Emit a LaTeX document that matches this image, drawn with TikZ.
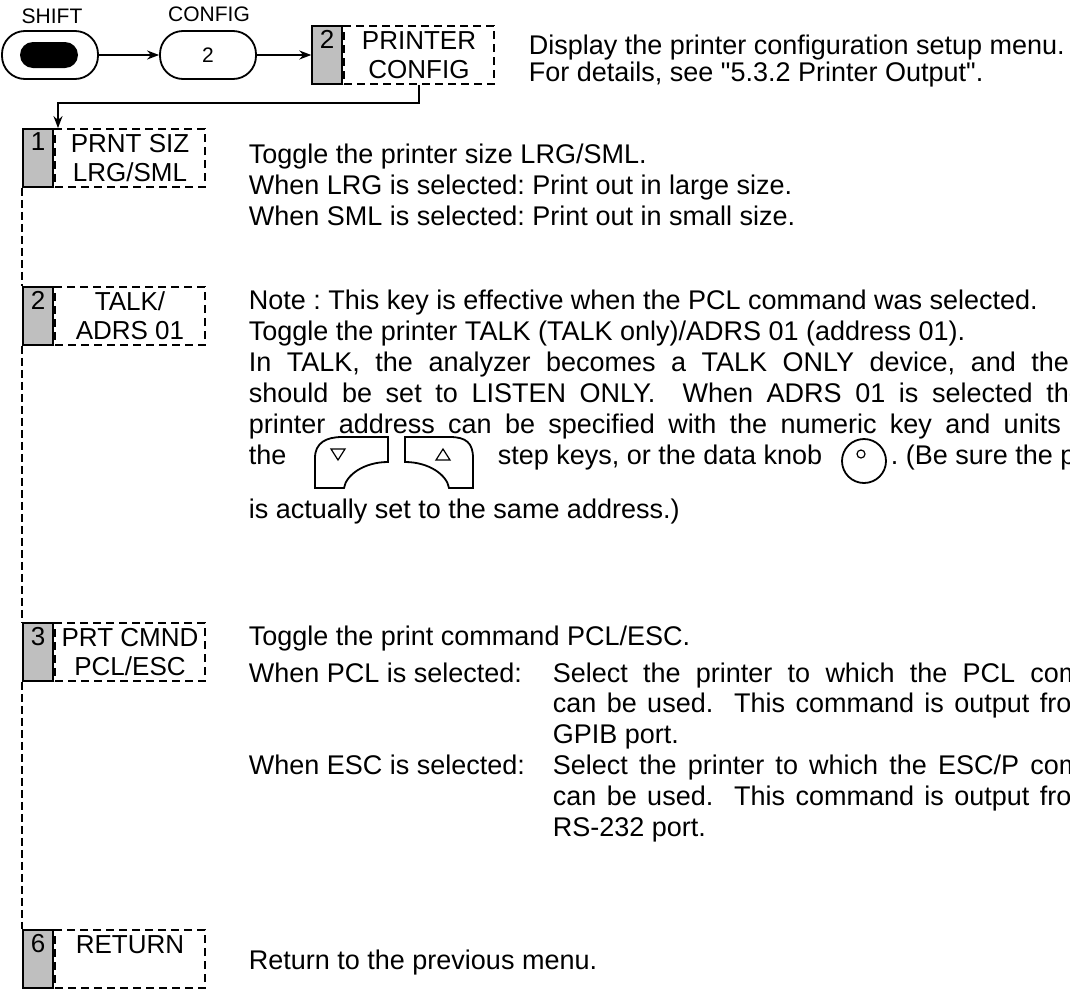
\documentclass[tikz,border=0pt]{standalone}
\usepackage{fontspec}
\setmainfont{Liberation Sans}
\newfontfamily\plainsans{Liberation Sans}
\usetikzlibrary{arrows.meta,positioning}

\newcommand{\bodyfont}{\plainsans\fontsize{13.5}{16}\selectfont}
\newcommand{\keyfont}{\fontsize{13}{14.5}\selectfont}
\newcommand{\capfont}{\fontsize{10.5}{12}\selectfont}
\frenchspacing

\begin{document}
\begin{tikzpicture}[x=0.5pt,y=-0.5pt,line width=0.9pt,
    body/.style={anchor=base west, inner sep=0pt, font=\bodyfont},
    keycap/.style={draw, rounded corners=11.5pt, minimum width=48pt, minimum height=24pt, inner sep=0pt},
    softkey/.style={draw, dash pattern=on 4pt off 2.5pt, minimum width=75pt, minimum height=29pt, inner sep=0pt, align=center, font=\keyfont},
    numcell/.style={draw, fill=black!25, minimum width=15pt, minimum height=29pt, inner sep=0pt},
    numtext/.style={anchor=north, inner sep=2pt, font=\keyfont},
    >={Stealth[length=6pt,width=4.5pt]}]
    \useasboundingbox (0,0) rectangle (1070,991);
    \clip (0,0) rectangle (1070,991);

    % hard keys
    \node[font=\capfont] (shiftlbl) at (52,16) {SHIFT};
    \node[font=\capfont] (configlbl) at (209,14) {CONFIG};
    \node[keycap] (shift) at (50,55) {};
    \node[fill, rounded corners=6.5pt, minimum width=29pt, minimum height=13pt, inner sep=0pt] (shiftdot) at (49,55) {};
    \node[keycap, font=\capfont] (config) at (208,55) {2};

    % soft keys
    \node[softkey] (kP) at (419,55) {PRINTER\\CONFIG};
    \node[numcell, left=0pt of kP, label={[numtext]north:2}] (nP) {};
    \node[softkey] (k1) at (130,158) {PRNT SIZ\\LRG/SML};
    \node[numcell, left=0pt of k1, label={[numtext]north:1}] (n1) {};
    \node[softkey] (k2) at (130,316) {TALK/\\ADRS 01};
    \node[numcell, left=0pt of k2, label={[numtext]north:2}] (n2) {};
    \node[softkey] (k3) at (130,652) {PRT CMND\\PCL/ESC};
    \node[numcell, left=0pt of k3, label={[numtext]north:3}] (n3) {};
    \node[softkey] (k6) at (130,959) {RETURN\\\mbox{}};
    \node[numcell, left=0pt of k6, label={[numtext]north:6}] (n6) {};

    \draw[->] (shift) -- (config);
    \draw[->] (config) -- (nP);
    \coordinate (bend) at (58,103);
    \draw[->] (kP.south) |- (bend) -- (bend |- k1.north);
    \draw[dash pattern=on 4pt off 2pt] (n1.south west) -- (n2.north west);
    \draw[dash pattern=on 4pt off 2pt] (n2.south west) -- (n3.north west);
    \draw[dash pattern=on 4pt off 2pt] (n3.south west) -- (n6.north west);

    % step keys and data knob
    \draw (315,488) -- (315,458) .. controls (315,443) and (326,437) .. (342,437) -- (388,437)
        -- (388,462) .. controls (364,462) and (346,475) .. (344,488) -- cycle;
    \draw[line width=0.6pt] (331,449) -- (345,449) -- (338,460) -- cycle;
    \draw (405,437) -- (450,437) .. controls (466,437) and (473,443) .. (473,458) -- (473,488)
        -- (449,488) .. controls (447,475) and (429,462) .. (405,462) -- cycle;
    \draw[line width=0.6pt] (436,460) -- (450,460) -- (443,449) -- cycle;
    \draw (864,461) circle (11pt);
    \draw[line width=0.6pt] (861,454) circle (2pt);

    % texts
    \node[body] (disp1) at (528,54) {Display the printer configuration setup menu.};
    \node[body] (disp2) at (528,81) {For details, see "5.3.2 Printer Output".};

    \node[body] (siz1) at (248,163) {Toggle the printer size LRG/SML.};
    \node[body] (siz2) at (248,194) {When LRG is selected: Print out in large size.};
    \node[body] (siz3) at (248,225) {When SML is selected: Print out in small size.};

    \node[body] (adr1) at (248,309) {Note : This key is effective when the PCL command was selected.};
    \node[body] (adr2) at (248,340) {Toggle the printer TALK (TALK only)/ADRS 01 (address 01).};
    \node[body] (adr3) at (248,371) {\makebox[410pt][s]{In TALK, the analyzer becomes a TALK ONLY device, and the}};
    \node[body] (adr4) at (248,402) {\makebox[417.5pt][s]{should be set to LISTEN ONLY.\ \ When ADRS 01 is selected the}};
    \node[body] (adr5) at (248,433) {\makebox[406pt][s]{printer address can be specified with the numeric key and units}};
    \node[body] (adr6) at (248,464) {the};
    \node[body] (adr7) at (497,464) {step keys, or the data knob};
    \node[body] (adr8) at (890,464) {. (Be sure the printer};
    \node[body] (adr9) at (248,518) {is actually set to the same address.)};

    \node[body] (cmd1) at (248,645) {Toggle the print command PCL/ESC.};
    \node[body] (cmd2) at (248,682) {When PCL is selected:};
    \node[body] (cmd3) at (552,682) {\makebox[298pt][s]{Select the printer to which the PCL command}};
    \node[body] (cmd4) at (552,712) {\makebox[270.5pt][s]{can be used.\ \ This command is output from}};
    \node[body] (cmd5) at (552,743) {GPIB port.};
    \node[body] (cmd6) at (248,774) {When ESC is selected:};
    \node[body] (cmd7) at (552,774) {\makebox[298pt][s]{Select the printer to which the ESC/P command}};
    \node[body] (cmd8) at (552,805) {\makebox[270.5pt][s]{can be used.\ \ This command is output from}};
    \node[body] (cmd9) at (552,836) {RS-232 port.};

    \node[body] (ret1) at (248,969) {Return to the previous menu.};
\end{tikzpicture}
\end{document}
